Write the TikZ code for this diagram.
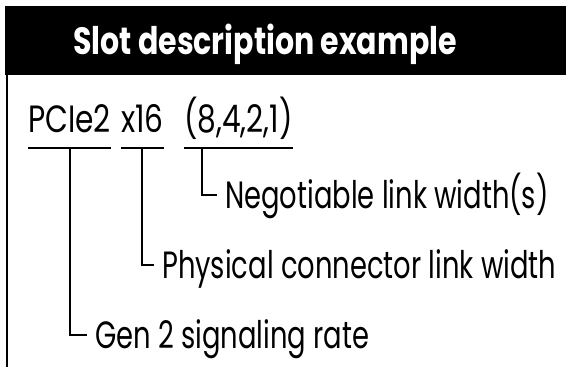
\documentclass[tikz,border=0pt]{standalone}
\usepackage{fontspec}
\setmainfont{Poppins}[FakeStretch=0.72]
\newfontfamily\headfont{Poppins}[FakeStretch=0.79]
\newfontfamily\slotfont{Poppins}[FakeStretch=0.78]
\usetikzlibrary{positioning}
\newcommand{\bigtext}{\fontsize{38}{44}\selectfont}
\tikzset{
  headline/.style={text=white, font=\headfont\bigtext\bfseries, inner sep=0pt, text height=26pt, text depth=0pt},
  part/.style={anchor=base west, inner sep=0pt, font=\slotfont\bigtext},
  lbl/.style={anchor=west, inner xsep=8pt, inner ysep=0pt, text height=26pt, text depth=0pt, font=\bigtext},
  stem/.style={line width=2pt},
}

\begin{document}
\begin{tikzpicture}[x=1pt, y=-1pt]
\useasboundingbox (0,0) rectangle (566,367);
\fill[white] (0,0) rectangle (566,367);
% header band and frame
\fill[black] (5,6) rectangle (566,75);
\draw[stem] (6.5,75) -- (6.5,367);
\node[headline] (title) at (265,41.5) {Slot description example};

% slot string
\node[part] (gen) at (28,132) {PCIe2};
\node[part] (lanes) at (121,132) {x16};
\node[part] (widths) at (184,132) {(8,4,2,1)};
\foreach \p in {gen,lanes,widths}
  \draw[stem] ([yshift=-16pt]\p.base west) -- ([yshift=-16pt]\p.base east);

% explanations
\node[lbl] (neg) at (217,195) {Negotiable link width(s)};
\node[lbl] (phys) at (154,265) {Physical connector link width};
\node[lbl] (rate) at (87,335) {Gen 2 signaling rate};

\draw[stem] ([xshift=18pt,yshift=-16pt]widths.base west) |- (neg.west);
\draw[stem] ([yshift=-16pt]lanes.base) |- (phys.west);
\draw[stem] ([yshift=-16pt]gen.base) |- (rate.west);
\end{tikzpicture}
\end{document}
